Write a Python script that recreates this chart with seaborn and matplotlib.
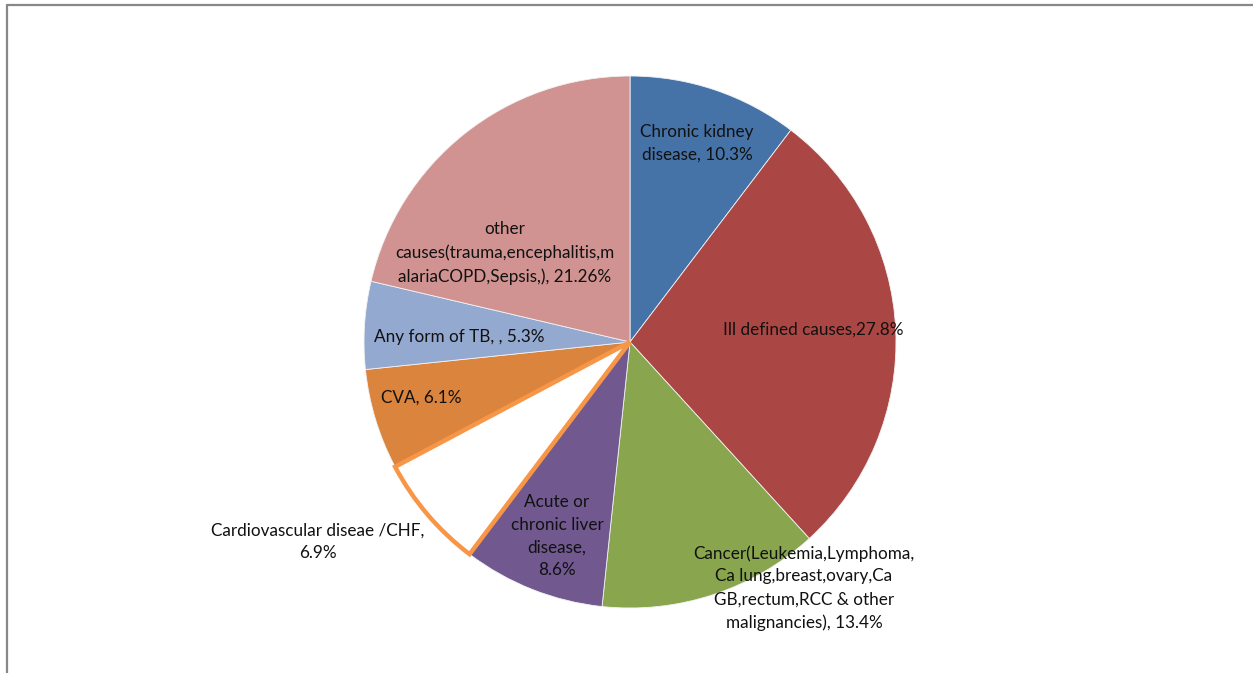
import matplotlib
matplotlib.use("Agg")
import matplotlib.pyplot as plt
from matplotlib.lines import Line2D
import seaborn as sns

# Causes of death, clockwise from 12 o'clock
causes = [
    "Chronic kidney\ndisease, 10.3%",
    "Ill defined causes,27.8%",
    "Cancer(Leukemia,Lymphoma,\nCa lung,breast,ovary,Ca\nGB,rectum,RCC & other\nmalignancies), 13.4%",
    "Acute or\nchronic liver\ndisease,\n8.6%",
    "Cardiovascular diseae /CHF,\n6.9%",
    "CVA, 6.1%",
    "Any form of TB, , 5.3%",
    "other\ncauses(trauma,encephalitis,m\nalariaCOPD,Sepsis,), 21.26%",
]
shares = [10.3, 27.8, 13.4, 8.6, 6.9, 6.1, 5.3, 21.26]
slice_colors = ["#4572A7", "#AA4643", "#89A54E", "#71588F",
                "#FFFFFF", "#DB843D", "#93A9CF", "#D19392"]

sns.set_theme(style="white")
plt.rcParams["font.family"] = ["Lato", "DejaVu Sans"]

W, H = 1253, 673
fig = plt.figure(figsize=(W / 100, H / 100), dpi=100)
ax = fig.add_axes([0, 0, 1, 1])

cx, cy, r = 630, H - 342, 266
wedges, _ = ax.pie(
    shares, colors=slice_colors, startangle=90, counterclock=False,
    center=(cx, cy), radius=r, frame=True,
    wedgeprops=dict(linewidth=0.6, edgecolor="#F2F2F2"),
)
ax.set_xlim(0, W)
ax.set_ylim(0, H)
ax.set_aspect("equal")
ax.axis("off")

# highlighted slice
wedges[4].set_edgecolor("#F79646")
wedges[4].set_linewidth(3.2)
wedges[4].set_zorder(3)

# label anchor points (pixel coordinates from top-left)
label_pos = [(697, 143), (813, 330), (804, 588), (557, 536),
             (318, 542), (421, 398), (459, 337), (505, 253)]
for text, (x, y) in zip(causes, label_pos):
    ax.text(x, H - y, text, ha="center", va="center", fontsize=12.3,
            color="#111111", linespacing=1.52)

# frame lines
line_col = "#888888"
fig.add_artist(Line2D([7 / W, 1], [1 - 5 / H, 1 - 5 / H],
                      transform=fig.transFigure, color=line_col, lw=1.6))
fig.add_artist(Line2D([7 / W, 7 / W], [0, 1 - 5 / H],
                      transform=fig.transFigure, color=line_col, lw=1.6))

fig.savefig("out.png", dpi=100, facecolor="white")
